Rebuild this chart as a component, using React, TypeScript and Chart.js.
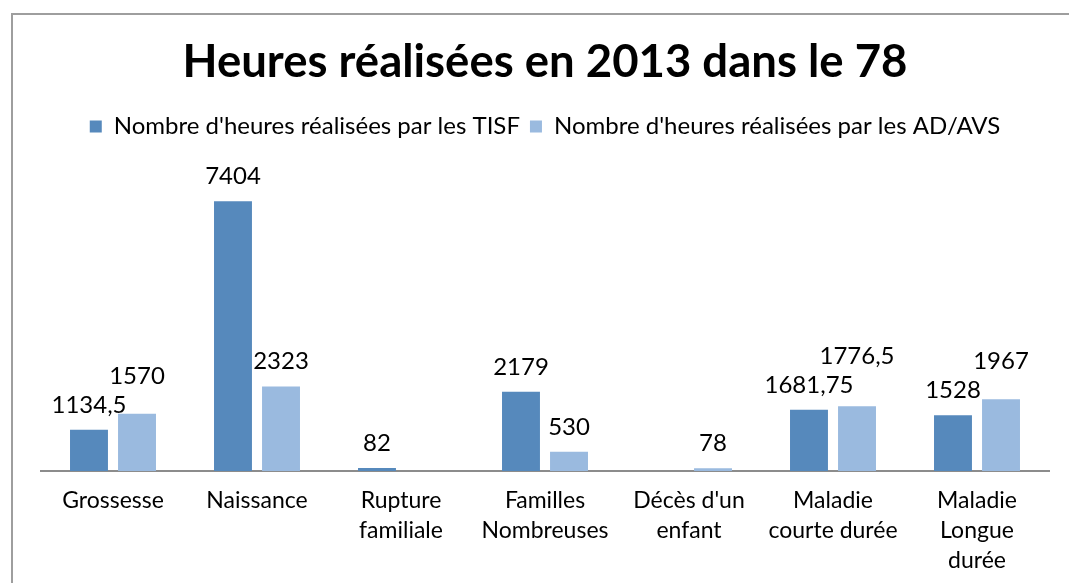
import React, { useEffect, useRef } from "react";
import { Chart, registerables } from "chart.js";

Chart.register(...registerables);

const titleText = "Heures réalisées en 2013 dans le 78";
const categories: string[][] = [
  ["Grossesse"],
  ["Naissance"],
  ["Rupture", "familiale"],
  ["Familles", "Nombreuses"],
  ["Décès d'un", "enfant"],
  ["Maladie", "courte durée"],
  ["Maladie", "Longue", "durée"],
];
const seriesNames = [
  "Nombre d'heures réalisées par les TISF",
  "Nombre d'heures réalisées par les AD/AVS",
];
const tisfValues: (number | null)[] = [1134.5, 7404, 82, 2179, null, 1681.75, 1528];
const advsValues: (number | null)[] = [1570, 2323, null, 530, 78, 1776.5, 1967];

const FONT = "Lato, 'Open Sans', sans-serif";
const colors = ["#5689BC", "#9ABADF"];

const fmt = (v: number) => String(v).replace(".", ",");

const valueLabels = {
  id: "valueLabels",
  afterDatasetsDraw(chart: any) {
    const ctx = chart.ctx;
    ctx.save();
    ctx.font = `24px ${FONT}`;
    ctx.fillStyle = "#000";
    ctx.textAlign = "center";
    ctx.textBaseline = "alphabetic";
    const n = chart.data.labels.length;
    for (let i = 0; i < n; i++) {
      const placed: { l: number; r: number; base: number }[] = [];
      chart.data.datasets.forEach((ds: any, di: number) => {
        const v = ds.data[i];
        if (v === null || v === undefined) return;
        const el = chart.getDatasetMeta(di).data[i];
        const text = fmt(v);
        const w = ctx.measureText(text).width;
        let base = el.y - 17;
        const l = el.x - w / 2;
        const r = el.x + w / 2;
        for (const p of placed) {
          const hOverlap = l < p.r + 2 && r > p.l - 2;
          const vOverlap = base > p.base - 20 && base - 20 < p.base;
          if (hOverlap && vOverlap) base = p.base - 29;
        }
        placed.push({ l, r, base });
        ctx.fillText(text, el.x, base);
      });
    }
    ctx.restore();
  },
};

export default function App() {
  const ref = useRef<HTMLCanvasElement | null>(null);
  useEffect(() => {
    if (!ref.current) return;
    const chart = new Chart(ref.current, {
      type: "bar",
      data: {
        labels: categories,
        datasets: [
          {
            label: seriesNames[0],
            data: tisfValues,
            backgroundColor: colors[0],
            categoryPercentage: 0.667,
            barPercentage: 0.79,
          },
          {
            label: seriesNames[1],
            data: advsValues,
            backgroundColor: colors[1],
            categoryPercentage: 0.667,
            barPercentage: 0.79,
          },
        ] as any,
      },
      options: {
        responsive: false,
        animation: false,
        layout: { padding: { left: 41, right: 20, top: 0, bottom: 6 } },
        plugins: {
          title: {
            display: true,
            text: titleText,
            color: "#000",
            font: { family: FONT, size: 45.5, weight: "bold" },
            padding: { top: 35, bottom: 15 },
          },
          legend: {
            display: true,
            labels: {
              color: "#000",
              font: { family: FONT, size: 24 },
              boxWidth: 12,
              boxHeight: 12,
              padding: 10,
            },
          },
          tooltip: { enabled: false },
        },
        scales: {
          x: {
            grid: { display: false },
            border: { display: true, color: "#8C8C8C", width: 2 },
            ticks: {
              color: "#000",
              font: { family: FONT, size: 23, lineHeight: 1.304 },
              maxRotation: 0,
              autoSkip: false,
              padding: 7,
            },
          },
          y: {
            display: false,
            min: 0,
            max: 8850,
          },
        },
      },
      plugins: [valueLabels],
    });
    return () => chart.destroy();
  }, []);
  return (
    <div style={{ position: "absolute", left: 0, top: 0, width: 1069, height: 583, background: "#fff", overflow: "hidden" }}>
      <div
        style={{
          position: "absolute",
          left: 11,
          top: 13,
          width: 1200,
          height: 700,
          borderLeft: "2px solid #9E9E9E",
          borderTop: "2px solid #9E9E9E",
        }}
      />
      <canvas ref={ref} width={1069} height={589} style={{ position: "absolute", left: 0, top: 0 }} />
    </div>
  );
}
